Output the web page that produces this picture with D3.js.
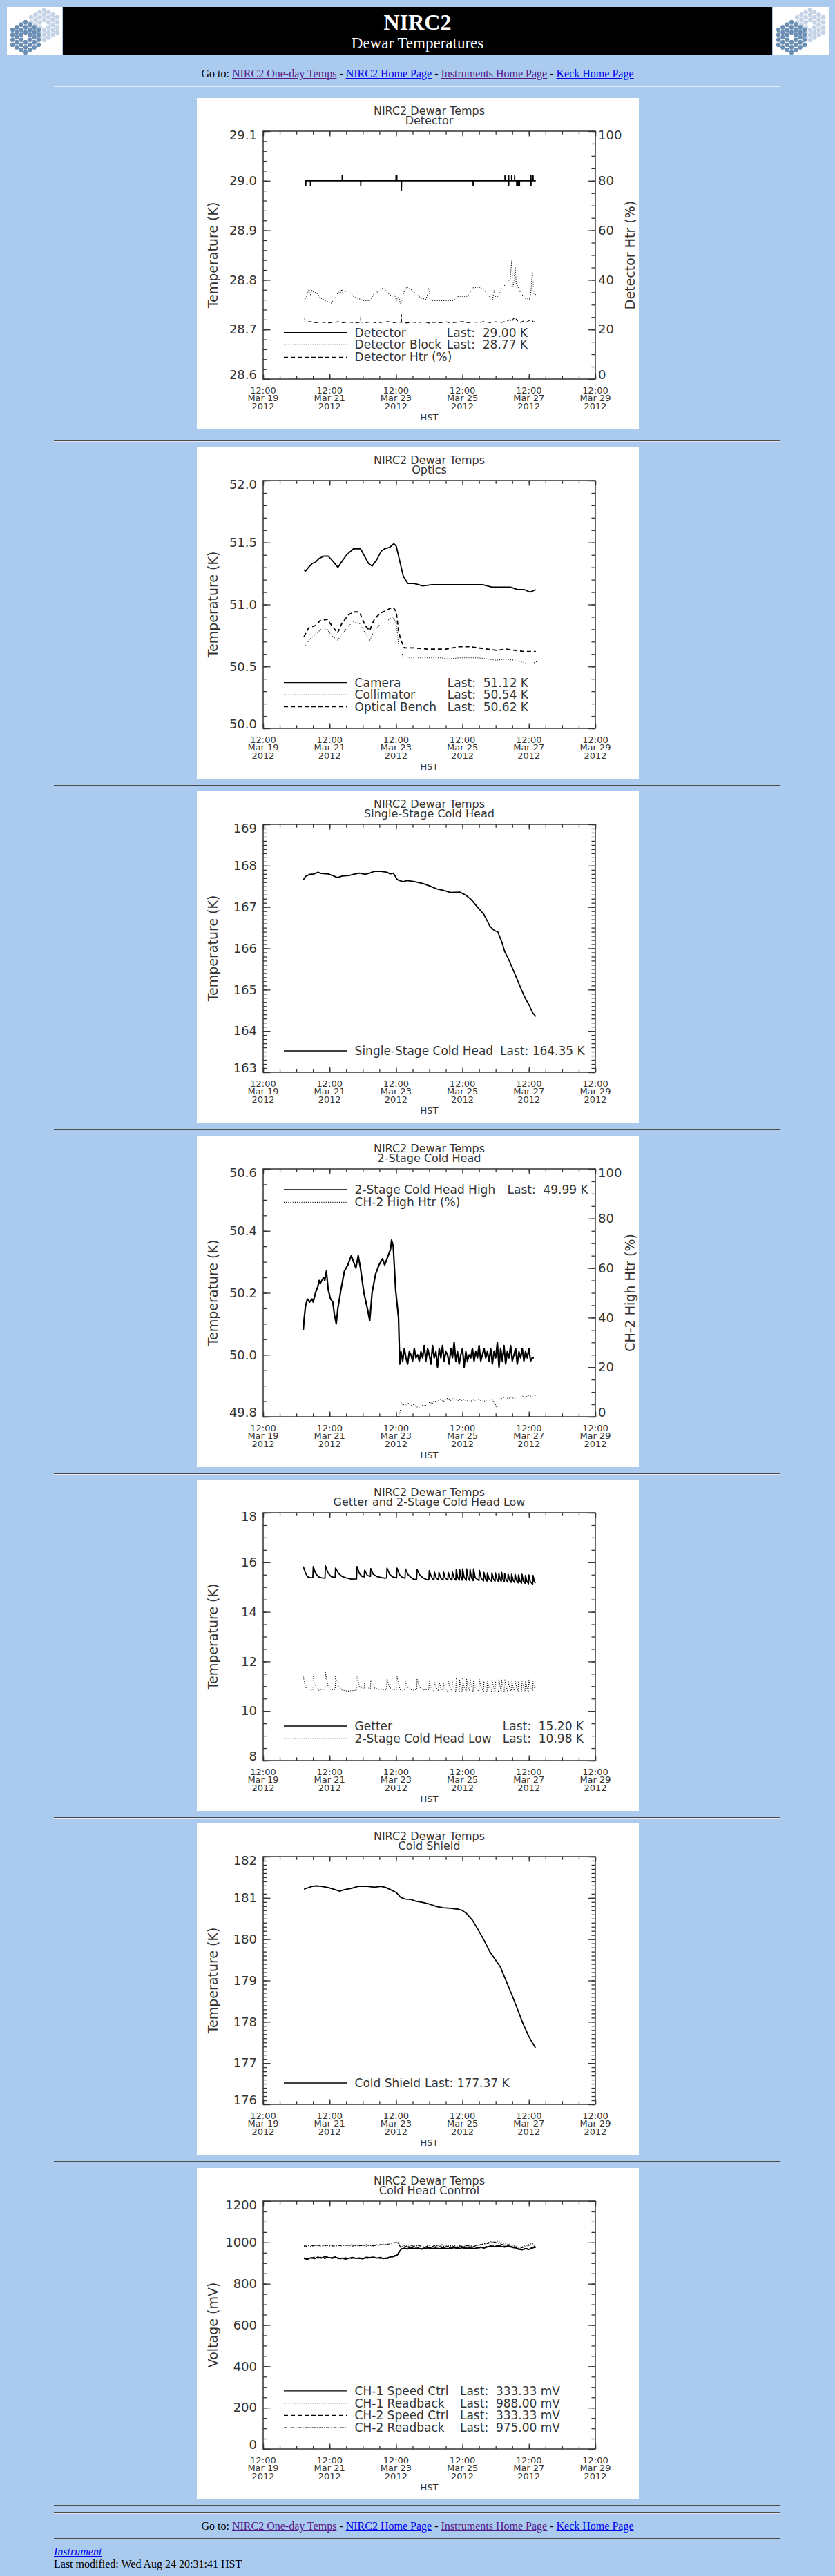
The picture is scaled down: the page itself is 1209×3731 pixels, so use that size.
<!DOCTYPE html>
<html>
<head>
<meta charset="utf-8">
<title>NIRC2 Dewar Temperatures</title>
<script src="https://cdn.jsdelivr.net/npm/d3@7"></script>
<style>
  body { margin: 0; background: #aacbee; font-family: "Liberation Serif", "Times New Roman", serif; }
  #page { position: relative; width: 1209px; height: 3731px; overflow: hidden; }
  .hr { position: absolute; left: 78px; width: 1052px; height: 0; border-top: 1px solid #4a4a4a; border-bottom: 1px solid #e2ebf5; }
  .nav { position: absolute; left: 0; width: 1209px; text-align: center; font-size: 16px; line-height: 20px; color: #000; }
  a { color: #0000ee; }
  a.v { color: #551a8b; }
  #hdr { position: absolute; left: 91px; top: 10px; width: 1027px; height: 69px; background: #000; color: #fff; text-align: center; }
  #hdr .t1 { position: absolute; left: 0; width: 100%; top: 4px; font-size: 32px; font-weight: bold; line-height: 36px; }
  #hdr .t2 { position: absolute; left: 0; width: 100%; top: 39px; font-size: 23px; line-height: 28px; }
  .foot { position: absolute; left: 78px; font-size: 16px; line-height: 20px; }
  svg.panel { position: absolute; left: 285px; background: #fff; }
</style>
</head>
<body>
<div id="page">
  <div id="hdr"><div class="t1">NIRC2</div><div class="t2">Dewar Temperatures</div></div>
  <div class="nav" style="top:97px">Go to: <a class="v" href="#">NIRC2 One-day Temps</a> - <a href="#">NIRC2 Home Page</a> - <a class="v" href="#">Instruments Home Page</a> - <a href="#">Keck Home Page</a></div>
  <div class="nav" style="top:3649px">Go to: <a class="v" href="#">NIRC2 One-day Temps</a> - <a href="#">NIRC2 Home Page</a> - <a class="v" href="#">Instruments Home Page</a> - <a href="#">Keck Home Page</a></div>
  <div class="foot" style="top:3686px"><i><a href="#">Instrument</a></i></div>
  <div class="foot" style="top:3704px">Last modified: Wed Aug 24 20:31:41 HST</div>
</div>
<script>
// ---- time base: hours after 12:00 Mar 19 2012 (HST) ----
const T0 = Date.UTC(2012, 2, 19, 12);
const at = h => new Date(T0 + h * 3600e3);
const seq = (start, step, vals) => vals.map((v, i) => [start + i * step, v]);

// ---- Detector ----
const detectorK = [[30,29.00],[30.8,29.00],[30.8,28.99],[30.9,29.00],[34.2,29.00],[34.2,28.99],[34.3,29.00],
  [57.1,29.00],[57.1,29.01],[57.2,29.00],[70.5,29.00],[70.5,28.99],[70.6,29.00],[96.0,29.00],[96.0,29.01],
  [96.6,29.01],[96.6,29.00],[99.9,29.00],[99.9,28.98],[100.0,29.00],[151.7,29.00],[151.7,28.99],[151.8,29.00],
  [174.7,29.00],[174.7,29.01],[174.8,29.00],[177.4,29.00],[177.4,29.01],[177.4,28.99],[177.5,29.00],
  [179.5,29.00],[179.5,29.01],[179.6,29.00],[181.7,29.00],[181.7,29.01],[181.8,29.00],[183.2,29.00],
  [183.2,28.99],[183.6,28.99],[183.6,29.00],[184.0,29.00],[184.0,28.99],[184.4,28.99],[184.4,29.00],
  [184.8,29.00],[184.8,28.99],[185.2,28.99],[185.2,29.00],[193.5,29.00],[193.5,29.01],[193.5,28.99],
  [193.6,29.00],[195.0,29.00],[195.0,29.01],[195.1,29.00],[197,29.00]];
const detBlockK = [[30.0,28.758],[32.1,28.774],[33.2,28.781],[34.2,28.770],[35.3,28.779],[36.4,28.775],
  [38.5,28.774],[41.7,28.763],[45.0,28.758],[49.2,28.753],[52.4,28.765],[54.5,28.777],[55.6,28.770],
  [56.7,28.781],[57.8,28.772],[58.8,28.779],[59.9,28.775],[62.0,28.777],[65.2,28.767],[68.4,28.763],
  [72.7,28.758],[77.0,28.758],[80.2,28.772],[83.4,28.777],[86.6,28.784],[89.8,28.774],[93.0,28.767],
  [95.1,28.770],[96.2,28.758],[97.3,28.765],[98.4,28.761],[99.4,28.749],[101.5,28.774],[103.7,28.786],
  [106.9,28.781],[110.1,28.772],[114.4,28.763],[117.6,28.761],[118.7,28.770],[119.7,28.784],[120.8,28.761],
  [121.9,28.758],[128.3,28.758],[136.8,28.758],[141.1,28.767],[147.5,28.767],[151.8,28.784],[156.0,28.786],
  [160.3,28.777],[164.6,28.763],[165.7,28.758],[166.7,28.779],[167.8,28.767],[169.9,28.767],[172.1,28.781],
  [174.2,28.788],[176.3,28.795],[178.5,28.802],[179.6,28.839],[180.6,28.784],[181.7,28.811],[182.1,28.827],
  [182.8,28.793],[183.8,28.788],[186.0,28.774],[189.2,28.763],[192.4,28.761],[193.4,28.774],[194.5,28.816],
  [195.6,28.772],[197.1,28.770]];
const detHtrPct = [[30,24.6],[30.3,22.9],[34,23.2],[38,22.7],[42,23.0],[46,22.6],[50,22.8],[54,23.1],[58,22.7],
  [62,23.0],[66,22.6],[70.4,22.9],[70.5,25.1],[70.6,23.0],[74,22.7],[78,23.1],[82,22.6],[86,22.9],[90,23.2],
  [94,22.7],[98,23.0],[99.8,22.8],[99.9,26.0],[100.0,23.0],[104,22.6],[108,23.0],[112,22.7],[116,23.1],
  [120,22.6],[124,22.9],[128,22.7],[132,23.1],[136,22.6],[140,22.9],[144,23.2],[148,22.7],[152,23.0],
  [156,22.8],[160,23.2],[164,22.7],[168,23.1],[172,22.8],[176,23.4],[178,23.9],[179.5,23.0],[181,24.6],
  [182,23.5],[183,24.2],[184,23.3],[186,22.8],[188,23.4],[190,22.9],[192,23.5],[194,24.1],[195,23.0],[197,23.3]];

// ---- Optics ----
const cameraK = [[29.5,51.28],[30.7,51.27],[32.8,51.30],[35.3,51.33],[37.8,51.34],[40.3,51.37],[43.7,51.39],
  [47.0,51.39],[50.3,51.35],[54.0,51.30],[57.0,51.35],[60.3,51.40],[65.3,51.45],[70.3,51.45],[73.7,51.38],
  [76.2,51.33],[78.7,51.31],[82.0,51.36],[85.3,51.43],[87.8,51.45],[91.2,51.46],[94.5,51.49],[96.2,51.47],
  [98.7,51.35],[101.2,51.23],[104.5,51.17],[108.7,51.17],[115.3,51.15],[122.0,51.16],[128.7,51.16],
  [138.7,51.16],[158.7,51.16],[165.3,51.14],[172.0,51.14],[178.7,51.14],[183.7,51.12],[188.7,51.12],
  [192.8,51.10],[197.0,51.12]];
const collimatorK = [[30.3,50.67],[33.7,50.72],[38.7,50.77],[42,50.80],[46.2,50.80],[49.5,50.75],[53.7,50.71],
  [57,50.76],[62,50.83],[65.3,50.86],[69.5,50.85],[73.7,50.77],[77,50.71],[80.3,50.79],[84.5,50.84],
  [88.7,50.86],[93.7,50.90],[96.2,50.85],[97.8,50.68],[101.2,50.58],[105.3,50.57],[118.7,50.57],
  [128.7,50.57],[133.7,50.56],[142,50.57],[155.3,50.57],[168.7,50.55],[175.3,50.56],[182,50.55],
  [188.7,50.53],[193.7,50.52],[197.8,50.54]];
const benchK = [[29.5,50.74],[32.8,50.81],[37.8,50.83],[41.2,50.87],[46.2,50.88],[50.3,50.82],[53.7,50.77],
  [57,50.85],[62,50.92],[66.2,50.94],[69.5,50.94],[73.7,50.83],[77,50.79],[80.3,50.88],[84.5,50.93],
  [88.7,50.95],[93.7,50.98],[96.2,50.94],[97.8,50.79],[99.5,50.71],[102,50.65],[108.7,50.65],[118.7,50.64],
  [125.3,50.64],[132,50.64],[142,50.66],[148.7,50.66],[155.3,50.65],[162,50.64],[168.7,50.63],[175.3,50.64],
  [182,50.63],[188.7,50.62],[197,50.62]];

// ---- Single-Stage Cold Head ----
const coldHeadK = [[29,167.66],[30.7,167.74],[33.7,167.79],[37,167.80],[39.5,167.84],[42,167.81],[47,167.80],
  [50.3,167.76],[53.7,167.71],[57,167.75],[62,167.76],[65.3,167.79],[69.5,167.82],[73.7,167.79],[77,167.82],
  [80.3,167.86],[85.3,167.86],[89.5,167.84],[91.7,167.80],[94,167.82],[97,167.66],[101.2,167.61],
  [103.7,167.64],[108.7,167.62],[115.3,167.57],[120.3,167.51],[125.3,167.44],[130.3,167.40],[135.3,167.35],
  [142,167.36],[146.2,167.29],[150.3,167.18],[155.3,166.98],[159.5,166.82],[163.7,166.54],[167,166.43],
  [169.5,166.40],[172.8,166.12],[174.5,165.92],[177,165.76],[182,165.37],[186.2,165.03],[189.5,164.78],
  [192,164.64],[194.5,164.45],[197,164.35]];

// ---- 2-Stage Cold Head ----
const ch2HighRiseK = [[29,50.08],[29.7,50.12],[30.7,50.16],[32,50.18],[33.5,50.17],[35.3,50.18],[36.2,50.17],
  [37.8,50.20],[39.5,50.22],[40.5,50.24],[41.2,50.23],[43.7,50.25],[44.5,50.24],[45.7,50.27],[47,50.21],
  [48.7,50.18],[50.3,50.17],[51.5,50.13],[52.8,50.10],[54,50.15],[56.2,50.21],[58.7,50.27],[61.2,50.29],
  [63.7,50.32],[65.3,50.30],[67,50.28],[68.7,50.32],[70.3,50.28],[72.8,50.20],[75.3,50.15],[77,50.11],
  [78.7,50.20],[81.2,50.26],[83.7,50.29],[86.2,50.31],[87.8,50.29],[90.3,50.32],[92,50.34],[92.8,50.37],
  [94,50.35],[95.7,50.21],[97.8,50.12],[98.7,49.97]];
const ch2HighNoiseK = [50.01,49.98,50.02,49.99,49.97,50.01,50.00,49.98,50.02,49.99,50.00,49.98,50.01,49.99,
  50.03,49.98,50.02,50.00,49.97,50.03,49.99,50.01,49.96,50.02,49.99,50.03,49.98,50.01,50.00,49.97,50.02,49.99,
  50.04,49.98,50.01,49.97,50.00,50.02,49.96,50.01,49.98,50.00,49.99,50.02,49.98,50.01,49.99,50.03,49.98,50.00,
  50.02,49.99,50.01,49.98,50.02,49.97,50.01,49.99,50.04,49.96,50.02,49.98,50.03,49.97,50.01,49.99,50.03,49.98,
  50.00,50.02,49.97,50.01,49.99,50.02,49.98,50.01,49.99,50.02,49.98,49.99,49.99];
const ch2HtrPct = [[97.3,0],[98.7,1.4],[100,6.0],[101,4.6],[102,5.1],[103.5,4.4],[105.3,5.6],[107,4.6],[108.7,4.9],
  [110.5,4.2],[112,3.6],[113.7,3.7],[115.5,4.8],[117,4.2],[118.7,5.1],[120.5,5.9],[122,5.2],[123.7,6.5],
  [125.5,5.8],[127,6.9],[128.7,7.0],[130.5,6.2],[132,7.3],[133.7,7.4],[135.5,6.6],[137,7.5],[138.7,7.2],
  [140.5,6.5],[142,7.1],[143.7,6.6],[145.3,7.0],[147,6.3],[148.7,6.9],[150.3,6.4],[152,7.0],[153.7,6.5],
  [155.3,7.2],[157,6.6],[158.7,6.8],[160.3,6.2],[162,7.1],[163.7,6.6],[165.3,7.0],[166.5,6.1],[167.8,5.2],
  [168.6,3.3],[169.5,4.5],[170.3,6.0],[171.2,7.0],[173,7.6],[175.3,7.9],[177,7.2],[179,8.0],[181,7.4],
  [183.7,8.1],[185.5,7.6],[187.5,8.3],[189.5,7.8],[192,8.7],[194,8.0],[195.5,8.8],[197,8.4]];

// ---- Getter and 2-Stage Cold Head Low ----
const getterK = [[29,15.83],[30.5,15.58],[32,15.42],[34,15.38],[35.9,15.38],[36.2,15.83],[37.8,15.56],[40,15.41],
  [42.5,15.37],[44.7,15.36],[45,15.86],[46.8,15.58],[49,15.43],[52,15.38],[52.3,15.77],[54.5,15.55],[57,15.43],
  [60,15.37],[63.7,15.32],[67.5,15.33],[67.8,15.83],[69.5,15.55],[71.5,15.43],[73,15.41],[73.3,15.68],
  [75.3,15.47],[77.5,15.43],[77.8,15.75],[79.5,15.52],[82,15.43],[85,15.39],[87.8,15.36],[89.2,15.37],
  [89.5,15.77],[91.3,15.52],[93.5,15.41],[96.4,15.37],[96.7,15.77],[98.5,15.50],[100.5,15.39],[102.5,15.36],
  [102.8,15.73],[104.7,15.50],[107,15.38],[108.7,15.31],[110.9,15.32],[111.2,15.71],[113,15.50],[115.5,15.37],
  [118.7,15.29],[119.7,15.30],[120,15.66],[121.3,15.45],[122.5,15.33],
  [123.4,15.29],[123.7,15.61],[124.9,15.38],[126.7,15.29],[127,15.59],[128.2,15.38],[130,15.28],[130.3,15.61],
  [131.5,15.37],[133.4,15.28],[133.7,15.59],[134.9,15.37],[136.4,15.28],[136.7,15.61],[137.9,15.37],
  [139.2,15.28],[139.5,15.71],[140.5,15.40],[141.7,15.28],[142,15.71],[142.9,15.40],[143.8,15.28],
  [144.1,15.73],[145.2,15.40],[146.7,15.27],[147,15.73],[148,15.40],[149.2,15.27],[149.5,15.71],[150.5,15.38],
  [151.7,15.26],[152,15.73],[153.2,15.38],[155.9,15.26],[156.2,15.68],[157.5,15.36],[159.2,15.25],
  [159.5,15.59],[160.6,15.34],[161.7,15.24],[162,15.57],[163.2,15.33],[165,15.24],[165.3,15.57],[166.5,15.32],
  [167.5,15.23],[167.8,15.57],[168.9,15.32],[170,15.22],[170.3,15.55],[171.3,15.31],[172,15.22],[172.3,15.59],
  [173.3,15.30],[174.2,15.21],[174.5,15.55],[175.6,15.29],[176.7,15.20],[177,15.52],[178.1,15.28],
  [179.2,15.19],[179.5,15.52],[180.6,15.27],[181.7,15.18],[182,15.52],[183.1,15.26],[184.2,15.17],
  [184.5,15.49],[185.6,15.24],[186.7,15.16],[187,15.52],[188.1,15.23],[189.2,15.15],[189.5,15.47],
  [190.6,15.22],[191.7,15.14],[192,15.49],[193.1,15.21],[194.7,15.12],[195,15.47],[196,15.20],[197,15.18]];
const lowK = [[29,11.39],[30.3,11.02],[31.8,10.86],[35.9,10.84],[36.2,11.44],[37.8,11.00],[40,10.83],[42.5,10.88],
  [44.7,10.85],[45,11.56],[46.8,11.02],[49,10.85],[52,10.87],[52.3,11.39],[54.3,11.00],[57,10.85],[61,10.80],
  [64.5,10.82],[67.5,10.84],[67.8,11.41],[69.5,11.00],[71.5,10.90],[73,10.88],[73.3,11.16],[75.2,10.95],
  [77.5,10.90],[77.8,11.25],[79.5,10.95],[83,10.88],[86,10.85],[89.2,10.86],[89.5,11.30],[91.5,10.95],
  [94,10.85],[96.4,10.87],[96.7,11.39],[98.5,10.95],[99.5,10.77],[102.5,10.86],[102.8,11.20],[105,10.90],
  [108,10.84],[110.9,10.86],[111.2,11.31],[113,10.95],[116,10.85],[119.7,10.86],[120,11.25],[121.5,10.92],
  [122.5,10.84],
  [123.4,10.82],[123.7,11.16],[124.9,10.95],[126.7,10.80],[127,11.20],[128.2,10.94],[130,10.81],[130.3,11.11],
  [131.5,10.93],[133.4,10.79],[133.7,11.25],[134.9,10.96],[136.4,10.80],[136.7,11.20],[137.9,10.94],
  [139.2,10.78],[139.5,11.30],[140.5,10.97],[141.7,10.80],[142,11.25],[142.9,10.95],[143.8,10.79],
  [144.1,11.30],[145.2,10.96],[146.7,10.77],[147,11.28],[148,10.95],[149.2,10.80],[149.5,11.31],[150.5,10.97],
  [151.7,10.78],[152,11.25],[153.2,10.94],[155.9,10.79],[156.2,11.28],[157.5,10.95],[159.2,10.80],
  [159.5,11.20],[160.6,10.93],[161.7,10.78],[162,11.25],[163.2,10.94],[165,10.79],[165.3,11.28],[166.5,10.95],
  [167.5,10.77],[167.8,11.20],[168.9,10.93],[170,10.80],[170.3,11.30],[171.3,10.96],[172,10.78],[172.3,11.25],
  [173.3,10.94],[174.2,10.79],[174.5,11.28],[175.6,10.95],[176.7,10.78],[177,11.22],[178.1,10.93],
  [179.2,10.80],[179.5,11.25],[180.6,10.94],[181.7,10.77],[182,11.25],[183.1,10.94],[184.2,10.79],
  [184.5,11.20],[185.6,10.93],[186.7,10.78],[187,11.25],[188.1,10.94],[189.2,10.80],[189.5,11.22],
  [190.6,10.93],[191.7,10.78],[192,11.25],[193.1,10.95],[194.7,10.79],[195,11.25],[196,10.94],[197,10.98]];

// ---- Cold Shield ----
const coldShieldK = [[29.5,181.21],[32,181.24],[35.3,181.28],[38.7,181.29],[42,181.28],[47,181.25],[52,181.20],
  [55.3,181.16],[58.7,181.20],[63.7,181.23],[68.7,181.28],[75.3,181.28],[80.3,181.26],[85.3,181.28],
  [88.7,181.25],[92,181.20],[96.2,181.13],[99.5,181.01],[102.8,180.97],[107,180.96],[110.3,180.92],
  [115.3,180.89],[120.3,180.85],[125.3,180.79],[130.3,180.76],[135.3,180.75],[140.3,180.73],[143.7,180.70],
  [147,180.62],[151.2,180.46],[155.3,180.23],[159.5,179.98],[163.7,179.70],[167,179.54],[171.2,179.34],
  [175.3,179.01],[179.5,178.67],[183.7,178.31],[187.8,177.95],[192,177.64],[196.7,177.37]];

// ---- Cold Head Control (samples every 2.5 h from hour 29.5) ----
const ch1SpeedMv = [922,918,926,921,929,924,931,927,925,930,921,924,919,923,927,922,925,920,928,926,929,924,927,
  921,925,930,934,940,966,972,968,975,969,973,967,971,975,970,973,968,974,971,969,975,972,970,976,971,974,969,
  973,977,972,978,983,979,985,981,977,984,979,975,968,964,970,966,973,978];
const ch1ReadMv = [982,987,980,985,984,988,983,986,981,987,985,989,984,986,990,983,988,985,982,987,984,989,986,
  992,990,995,997,1003,978,985,981,988,983,986,980,987,984,989,982,986,990,984,981,987,983,985,979,986,982,988,
  985,991,994,998,1004,1001,1006,999,993,996,990,983,976,979,985,990,996,988];
const ch2SpeedMv = [925,920,923,928,924,927,922,929,923,926,924,920,925,921,924,926,922,924,925,923,926,928,923,
  926,922,927,932,938,969,970,973,971,972,970,969,974,971,972,970,971,972,969,973,971,974,972,971,973,970,972,
  975,974,976,980,981,982,980,983,981,980,977,972,967,968,969,970,975,976];
const ch2ReadMv = [984,980,986,983,987,981,985,988,984,982,986,983,987,985,982,988,984,986,989,985,983,987,990,
  988,991,993,998,1000,975,982,979,984,980,985,982,978,983,980,985,981,983,979,984,982,978,983,980,985,983,980,
  986,988,992,995,999,1002,997,992,988,990,985,978,972,975,980,986,990,975];

// ---- panel layout ----
const panelTops = [142, 648, 1146, 1645, 2143, 2641, 3140];
const hrTops = [124, 638, 1137, 1635, 2134, 2632, 3130, 3628, 3639, 3676];

const panels = [
  { title: 'Detector', y: [28.6, 29.1], major: 0.1, minor: 0.02, fmt: '.1f', ylab: 'Temperature (K)',
    right: { y: [0, 100], major: 20, minor: 5, fmt: 'd', lab: 'Detector Htr (%)' },
    series: [{ data: detectorK, style: 'solid' }, { data: detBlockK, style: 'dotted' },
             { data: detHtrPct, style: 'dashed', right: true, w: 1.1 }],
    legend: { rows: [339.7, 357.3, 375.3], end: 479,
      items: [['solid', 'Detector', 'Last:  29.00 K'], ['dotted', 'Detector Block', 'Last:  28.77 K'],
              ['dashed', 'Detector Htr (%)', '']] } },
  { title: 'Optics', y: [50, 52], major: 0.5, minor: 0.1, fmt: '.1f', ylab: 'Temperature (K)',
    series: [{ data: cameraK, style: 'solid' }, { data: collimatorK, style: 'dotted' },
             { data: benchK, style: 'dashed' }],
    legend: { rows: [340.6, 358.3, 375.6], end: 480,
      items: [['solid', 'Camera', 'Last:  51.12 K'], ['dotted', 'Collimator', 'Last:  50.54 K'],
              ['dashed', 'Optical Bench', 'Last:  50.62 K']] } },
  { title: 'Single-Stage Cold Head', y: [163, 169], major: 1, minor: 0.1, fmt: 'd', ylab: 'Temperature (K)',
    series: [{ data: coldHeadK, style: 'solid' }],
    legend: { rows: [376], end: 561.7, items: [['solid', 'Single-Stage Cold Head', 'Last: 164.35 K']] } },
  { title: '2-Stage Cold Head', y: [49.8, 50.6], major: 0.2, minor: 0.05, fmt: '.1f', ylab: 'Temperature (K)',
    right: { y: [0, 100], major: 20, minor: 5, fmt: 'd', lab: 'CH-2 High Htr (%)' },
    series: [{ data: ch2HighRiseK.concat(seq(99.6, 1.2, ch2HighNoiseK)), style: 'solid', w: 2.2 },
             { data: ch2HtrPct, style: 'dotted', right: true }],
    legend: { rows: [78, 96.4], end: 566.7,
      items: [['solid', '2-Stage Cold Head High', 'Last:  49.99 K'], ['dotted', 'CH-2 High Htr (%)', '']] } },
  { title: 'Getter and 2-Stage Cold Head Low', y: [8, 18], major: 2, minor: 0.5, fmt: 'd', ylab: 'Temperature (K)',
    series: [{ data: getterK, style: 'solid' }, { data: lowK, style: 'dotted' }],
    legend: { rows: [357, 375.4], end: 560,
      items: [['solid', 'Getter', 'Last:  15.20 K'], ['dotted', '2-Stage Cold Head Low', 'Last:  10.98 K']] } },
  { title: 'Cold Shield', y: [176, 182], major: 1, minor: 0.1, fmt: 'd', ylab: 'Temperature (K)',
    series: [{ data: coldShieldK, style: 'solid' }],
    legend: { rows: [376], end: 452.7, items: [['solid', 'Cold Shield', 'Last: 177.37 K']] } },
  { title: 'Cold Head Control', y: [0, 1200], major: 200, minor: 50, fmt: 'd', ylab: 'Voltage (mV)',
    series: [{ data: seq(29.5, 2.5, ch1SpeedMv), style: 'solid' }, { data: seq(29.5, 2.5, ch1ReadMv), style: 'dotted' },
             { data: seq(29.5, 2.5, ch2SpeedMv), style: 'dashed' }, { data: seq(29.5, 2.5, ch2ReadMv), style: 'dashdot' }],
    legend: { rows: [322.9, 340.6, 358.3, 376], end: 526,
      items: [['solid', 'CH-1 Speed Ctrl', 'Last:  333.33 mV'], ['dotted', 'CH-1 Readback', 'Last:  988.00 mV'],
              ['dashed', 'CH-2 Speed Ctrl', 'Last:  333.33 mV'], ['dashdot', 'CH-2 Readback', 'Last:  975.00 mV']] } }
];

const lineStyles = {
  solid:   { w: 1.8, dash: null },
  dotted:  { w: 1.1, dash: '1,2.2' },
  dashed:  { w: 1.8, dash: '6,4' },
  dashdot: { w: 1.2, dash: '5,2,1.2,2' }
};
const FONT = '"DejaVu Sans", Verdana, sans-serif';
const INK = '#333';

const page = d3.select('#page');

// horizontal rules
hrTops.forEach(t => page.append('div').attr('class', 'hr').style('top', t + 'px'));

// Keck mirror logos
function drawLogo(left, width) {
  const s = page.append('svg').attr('width', width).attr('height', 69)
    .style('position', 'absolute').style('left', left + 'px').style('top', '10px').style('background', '#fff');
  const cells = [];
  for (let q = -3; q <= 3; q++) for (let r = -3; r <= 3; r++) {
    if (Math.abs(-q - r) <= 3 && (q || r)) cells.push([q, r]);
  }
  const hex = (cx, cy, rad) => d3.range(6).map(k => [cx + rad * Math.cos(k * Math.PI / 3), cy + rad * Math.sin(k * Math.PI / 3)]);
  [[54, 26, '#c3d2e5'], [27, 44, '#6a8eb4']].forEach(([ox, oy, col]) => {
    s.append('g').selectAll('path').data(cells).join('path')
      .attr('d', ([q, r]) => 'M' + hex(ox + 4.2 * 1.5 * q, oy + 4.2 * Math.sqrt(3) * (r + q / 2), 3.7).join('L') + 'Z')
      .attr('fill', col);
  });
}
drawLogo(10, 80);
drawLogo(1119, 81);

const steps = (lo, hi, st) => d3.range(Math.round((hi - lo) / st) + 1).map(i => +(lo + i * st).toFixed(6));

function drawPanel(top, cfg) {
  const W = 640, H = 480, L = 96, T = 48, PW = 481, PH = 359;
  const svg = page.append('svg').attr('class', 'panel').attr('width', W).attr('height', H).style('top', top + 'px');

  const x = d3.scaleUtc().domain([at(0), at(240)]).range([L, L + PW]);
  const y = d3.scaleLinear().domain(cfg.y).range([T + PH, T]);
  const yr = cfg.right ? d3.scaleLinear().domain(cfg.right.y).range([T + PH, T]) : y;

  const styleAxis = g => {
    g.select('.domain').remove();
    g.attr('font-family', FONT).attr('fill', INK);
    g.selectAll('line').attr('stroke', INK).attr('stroke-width', 1.3);
    g.selectAll('text').attr('fill', INK);
  };

  // titles
  svg.append('text').attr('x', L + PW / 2).attr('y', 18).attr('text-anchor', 'middle').attr('dominant-baseline', 'central')
    .attr('font-family', FONT).attr('font-size', 16).attr('fill', INK).text('NIRC2 Dewar Temps');
  svg.append('text').attr('x', L + PW / 2).attr('y', 32).attr('text-anchor', 'middle').attr('dominant-baseline', 'central')
    .attr('font-family', FONT).attr('font-size', 16).attr('fill', INK).text(cfg.title);

  // x axes: ticks every 12 h, labels every 2 days
  const minorX = d3.range(0, 241, 12).map(at);
  const majorX = d3.range(0, 241, 48).map(at);
  svg.append('g').attr('transform', `translate(0,${T + PH})`)
    .call(d3.axisBottom(x).tickValues(minorX).tickSize(-4.7).tickFormat('')).call(styleAxis);
  svg.append('g').attr('transform', `translate(0,${T + PH})`)
    .call(d3.axisBottom(x).tickValues(majorX).tickSize(-7.5).tickFormat('')).call(styleAxis);
  svg.append('g').attr('transform', `translate(0,${T})`)
    .call(d3.axisTop(x).tickValues(minorX).tickSize(-4.7).tickFormat('')).call(styleAxis);
  svg.append('g').attr('transform', `translate(0,${T})`)
    .call(d3.axisTop(x).tickValues(majorX).tickSize(-7.5).tickFormat('')).call(styleAxis);

  const fH = d3.utcFormat('%H:%M'), fD = d3.utcFormat('%b %d'), fY = d3.utcFormat('%Y');
  const xl = svg.append('g').attr('font-family', FONT).attr('font-size', 13).attr('fill', INK).attr('text-anchor', 'middle');
  majorX.forEach(d => {
    [[fH(d), 16], [fD(d), 27.5], [fY(d), 39]].forEach(([s, dy]) => {
      xl.append('text').attr('x', x(d)).attr('y', T + PH + dy).attr('dominant-baseline', 'central').text(s);
    });
  });
  xl.append('text').attr('x', L + PW / 2).attr('y', T + PH + 55).attr('dominant-baseline', 'central').text('HST');

  // left axis
  const yMaj = steps(cfg.y[0], cfg.y[1], cfg.major), yMin = steps(cfg.y[0], cfg.y[1], cfg.minor);
  svg.append('g').attr('transform', `translate(${L},0)`)
    .call(d3.axisLeft(y).tickValues(yMin).tickSize(-5.5).tickFormat('')).call(styleAxis);
  svg.append('g').attr('transform', `translate(${L},0)`)
    .call(d3.axisLeft(y).tickValues(yMaj).tickSize(-10.5).tickPadding(9).tickFormat(d3.format(cfg.fmt)))
    .call(styleAxis)
    .call(g => g.selectAll('text').attr('font-size', 18)
      .attr('y', (d, i, n) => i === 0 ? -6 : i === n.length - 1 ? 6 : 0));

  // right axis
  const rc = cfg.right || { y: cfg.y, major: cfg.major, minor: cfg.minor, fmt: null };
  const rMaj = steps(rc.y[0], rc.y[1], rc.major), rMin = steps(rc.y[0], rc.y[1], rc.minor);
  svg.append('g').attr('transform', `translate(${L + PW},0)`)
    .call(d3.axisRight(yr).tickValues(rMin).tickSize(-5.5).tickFormat('')).call(styleAxis);
  svg.append('g').attr('transform', `translate(${L + PW},0)`)
    .call(d3.axisRight(yr).tickValues(rMaj).tickSize(-10.5).tickPadding(4)
      .tickFormat(cfg.right ? d3.format(rc.fmt) : ''))
    .call(styleAxis)
    .call(g => g.selectAll('text').attr('font-size', 18)
      .attr('y', (d, i, n) => i === 0 ? -6 : i === n.length - 1 ? 6 : 0));

  // frame
  svg.append('rect').attr('x', L).attr('y', T).attr('width', PW).attr('height', PH)
    .attr('fill', 'none').attr('stroke', INK).attr('stroke-width', 1.5);

  // axis titles
  svg.append('text').attr('transform', `translate(22.6,${T + PH / 2}) rotate(-90)`)
    .attr('text-anchor', 'middle').attr('dominant-baseline', 'central')
    .attr('font-family', FONT).attr('font-size', 19).attr('fill', INK).text(cfg.ylab);
  if (cfg.right) {
    svg.append('text').attr('transform', `translate(627,${T + PH / 2}) rotate(-90)`)
      .attr('text-anchor', 'middle').attr('dominant-baseline', 'central')
      .attr('font-family', FONT).attr('font-size', 19).attr('fill', INK).text(cfg.right.lab);
  }

  // data
  cfg.series.forEach(s => {
    const ys = s.right ? yr : y;
    const st = lineStyles[s.style];
    svg.append('path').datum(s.data)
      .attr('d', d3.line().x(d => x(at(d[0]))).y(d => ys(d[1])))
      .attr('fill', 'none').attr('stroke', '#000').attr('stroke-width', s.w || st.w)
      .attr('stroke-dasharray', st.dash).attr('stroke-linejoin', 'round');
  });

  // legend
  const lg = svg.append('g').attr('font-family', FONT).attr('font-size', 17).attr('fill', INK);
  cfg.legend.items.forEach(([style, name, last], i) => {
    const ry = cfg.legend.rows[i];
    const st = lineStyles[style];
    lg.append('line').attr('x1', 126).attr('x2', 217).attr('y1', ry).attr('y2', ry)
      .attr('stroke', '#000').attr('stroke-width', Math.min(st.w, 1.3)).attr('stroke-dasharray', st.dash);
    lg.append('text').attr('x', 228.6).attr('y', ry).attr('dominant-baseline', 'central').text(name);
    if (last) {
      lg.append('text').attr('x', cfg.legend.end).attr('y', ry).attr('dominant-baseline', 'central')
        .attr('text-anchor', 'end').style('white-space', 'pre').text(last);
    }
  });
}

panels.forEach((p, i) => drawPanel(panelTops[i], p));
</script>
</body>
</html>
